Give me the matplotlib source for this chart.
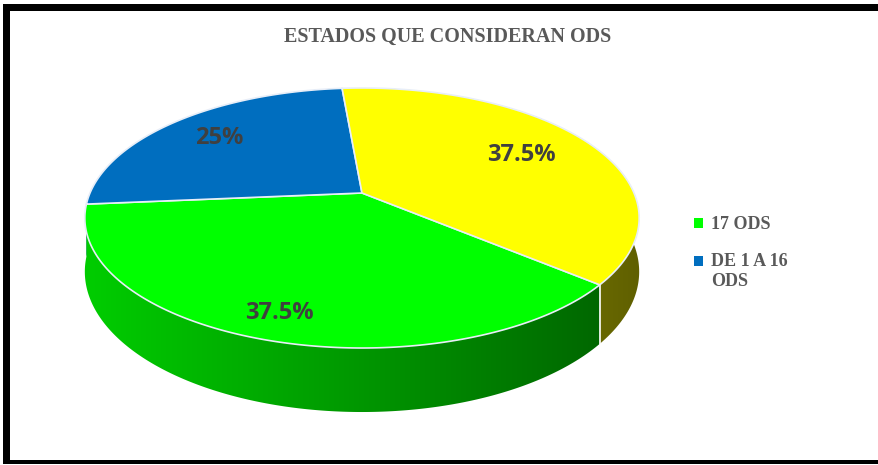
import matplotlib
matplotlib.use("Agg")
import matplotlib.pyplot as plt
from matplotlib.patches import Polygon, Rectangle
import numpy as np

# datos
categorias = ['17 ODS', 'DE 1 A 16\nODS', '']
valores = [37.5, 25, 37.5]
etiquetas = ['37.5%', '25%', '37.5%']
colores = ['#00ff00', '#006ebf', '#ffff00']
titulo = 'ESTADOS QUE CONSIDERAN ODS'

# geometria del pastel 3D (pixeles)
cx, cy = 362, 193
A, B, e = 272, 125.2, 0.1923
H = 51.7
inicio = -40.0          # grados, en sentido horario
r_etiq = [0.85, 0.75, 0.7]


def proyectar(theta, r=1.0, z=0.0):
    u = r * np.cos(theta)
    v = -r * np.sin(theta)
    w = 1 - e * v
    return cx + A * u / w, cy + B * v / w + z * H / w


fig = plt.figure(figsize=(8.79, 4.65), dpi=100)
ax = fig.add_axes([0, 0, 1, 1])
ax.set_xlim(0, 879)
ax.set_ylim(465, 0)
ax.axis('off')

# marco
ax.add_patch(Rectangle((3, 4), 7, 460, color='black', lw=0))
ax.add_patch(Rectangle((3, 4), 880, 7, color='black', lw=0))
ax.add_patch(Rectangle((3, 460), 880, 4, color='black', lw=0))

total = sum(valores)
angulos = [inicio]
for val in valores:
    angulos.append(angulos[-1] - val / total * 360)
angulos = np.radians(angulos)

# borde lateral con degradado horizontal
xs = np.linspace(0, 879, 880)
u = np.clip((xs - cx) / A, -1, 1)
f = 0.8 - 0.42 * (u + 1) / 2
for i in [1, 2, 0]:
    rgb = np.array(matplotlib.colors.to_rgb(colores[i]))
    t = np.linspace(angulos[i], angulos[i + 1], 300)
    arriba = [proyectar(a) for a in t]
    abajo = [proyectar(a, z=1) for a in t[::-1]]
    borde = Polygon(arriba + abajo, closed=True, facecolor='none', lw=0)
    ax.add_patch(borde)
    img = (f[:, None] * rgb[None, :])[None, :, :]
    im = ax.imshow(img, extent=(0, 879, 465, 0), aspect='auto',
                   interpolation='bilinear', zorder=1)
    im.set_clip_path(borde)

# linea blanca vertical en el borde
x0, y0 = proyectar(angulos[0])
x1, y1 = proyectar(angulos[0], z=1)
ax.plot([x0, x1], [y0, y1], color='white', lw=1.2, zorder=2)

# caras superiores
parches = []
for i, col in enumerate(colores):
    t = np.linspace(angulos[i], angulos[i + 1], 200)
    pts = [proyectar(0, r=0)] + [proyectar(a) for a in t]
    pol = Polygon(pts, closed=True, facecolor=col, edgecolor='#e8eef8', lw=1.2,
                  zorder=3,
                  label=categorias[i] if categorias[i] else '_nolegend_')
    ax.add_patch(pol)
    parches.append(pol)

# etiquetas de datos
for i, txt in enumerate(etiquetas):
    am = (angulos[i] + angulos[i + 1]) / 2
    x, y = proyectar(am, r=r_etiq[i])
    ax.text(x, y, txt, ha='center', va='center', fontsize=17, zorder=4,
            fontweight='bold', family='Open Sans', color='#404040')

ax.text(448, 37, titulo, ha='center', va='center', fontsize=14.5,
        fontweight='bold', family='Liberation Serif', color='#595959')

leg = ax.legend(handles=parches[:2], loc='upper left',
                bbox_to_anchor=(678 / 879, 1 - 200 / 465), frameon=False,
                handlelength=0.5, handleheight=0.5, handletextpad=0.45,
                labelspacing=1.1,
                prop={'family': 'Liberation Serif', 'weight': 'bold', 'size': 13})
for h in leg.legend_handles:
    h.set_edgecolor('none')
# marcador alineado con la primera linea del texto
h = leg.legend_handles[1]
h.set_y(h.get_y() + 0.6 * 13)
for t in leg.get_texts():
    t.set_color('#595959')

fig.savefig('out.png', dpi=100)
